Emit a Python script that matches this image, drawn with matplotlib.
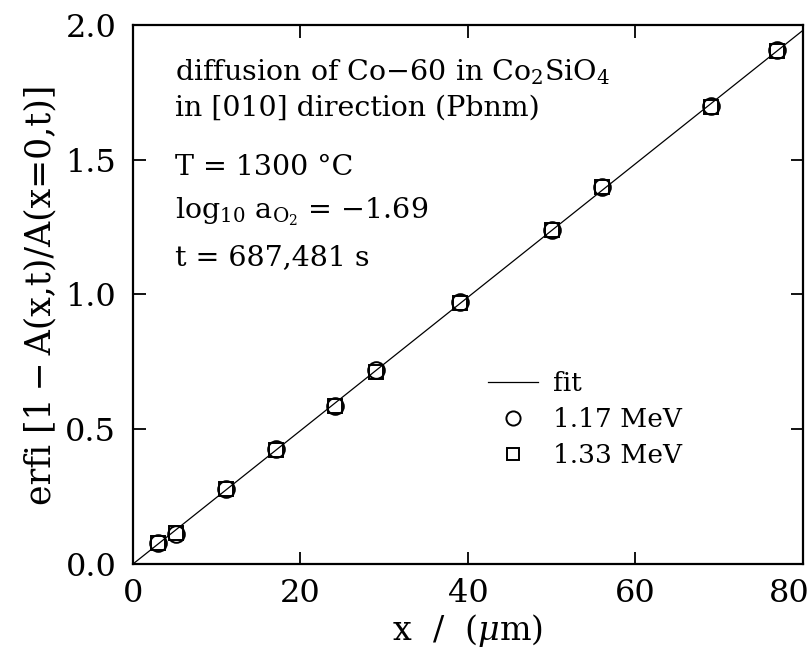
import matplotlib
matplotlib.use("Agg")
import matplotlib.pyplot as plt
import matplotlib.transforms as mtransforms

# depth and erfi values
x_117 = [3.0, 5.1, 11.1, 17.1, 24.1, 29.0, 39.0, 50.0, 56.0, 69.0, 76.9]
y_117 = [0.078, 0.113, 0.280, 0.425, 0.588, 0.720, 0.973, 1.238, 1.400, 1.700, 1.906]
x_133 = [3.0, 5.1, 11.1, 17.1, 24.1, 29.0, 39.0, 50.0, 56.0, 69.0, 76.9]
y_133 = [0.076, 0.115, 0.277, 0.422, 0.585, 0.713, 0.970, 1.240, 1.397, 1.697, 1.903]
fit_x = [0, 80]
fit_y = [0, 1.98]

xticks = [0, 20, 40, 60, 80]
yticks = [0.0, 0.5, 1.0, 1.5, 2.0]

plt.rcParams['font.family'] = ['DejaVu Serif']
plt.rcParams['mathtext.fontset'] = 'dejavuserif'

fig = plt.figure(figsize=(8.12, 6.52), dpi=100)
ax = fig.add_axes([0.1638, 0.135, 0.825, 0.8267])

ax.plot(fit_x, fit_y, color='black', lw=0.9, label='fit')
ax.plot(x_117, y_117, 'o', ms=12, mfc='none', mec='black', mew=1.4, label='1.17 MeV')
ax.plot(x_133, y_133, 's', ms=10.5, mfc='none', mec='black', mew=1.4, label='1.33 MeV')

ax.set_xlim(0, 80)
ax.set_ylim(0, 2.0)
ax.set_xticks(xticks)
ax.set_yticks(yticks)
ax.set_yticklabels(['%.1f' % v for v in yticks])
ax.tick_params(direction='in', length=9, width=1.3, top=True, right=True,
               labelsize=23)
ax.tick_params(axis='y', pad=12)
ax.tick_params(axis='x', pad=10)
for s in ax.spines.values():
    s.set_linewidth(1.6)

# last x label pulled in so it stays on the canvas
lab = ax.get_xticklabels()[-1]
lab.set_transform(lab.get_transform() + mtransforms.ScaledTranslation(-14 / 100, 0, fig.dpi_scale_trans))

ax.set_xlabel(r'x  /  ($\mu$m)', fontsize=24, labelpad=2)
ax.set_ylabel('erfi [1\u2009\u2212\u2009A(x,t)/A(x=0,t)]', fontsize=25, labelpad=6)

txt = dict(transform=ax.transAxes, fontsize=20.5, va='center', ha='left')
ax.text(0.062, 0.913, 'diffusion of Co\u221260 in Co$_2$SiO$_4$', **txt)
ax.text(0.062, 0.846, 'in [010] direction (Pbnm)', **txt)
ax.text(0.062, 0.735, 'T = 1300 \u00b0C', **txt)
ax.text(0.062, 0.653, r'log$_{10}$ a$_{\mathrm{O}_2}$ = $-$1.69', **txt)
ax.text(0.062, 0.568, 't = 687,481 s', **txt)

ax.legend(loc='upper left', bbox_to_anchor=(0.53, 0.358), frameon=False,
          fontsize=19, handlelength=1.9, handletextpad=0.55, labelspacing=0.42,
          borderpad=0, borderaxespad=0, markerscale=0.85)

fig.savefig('out.png', dpi=100)
